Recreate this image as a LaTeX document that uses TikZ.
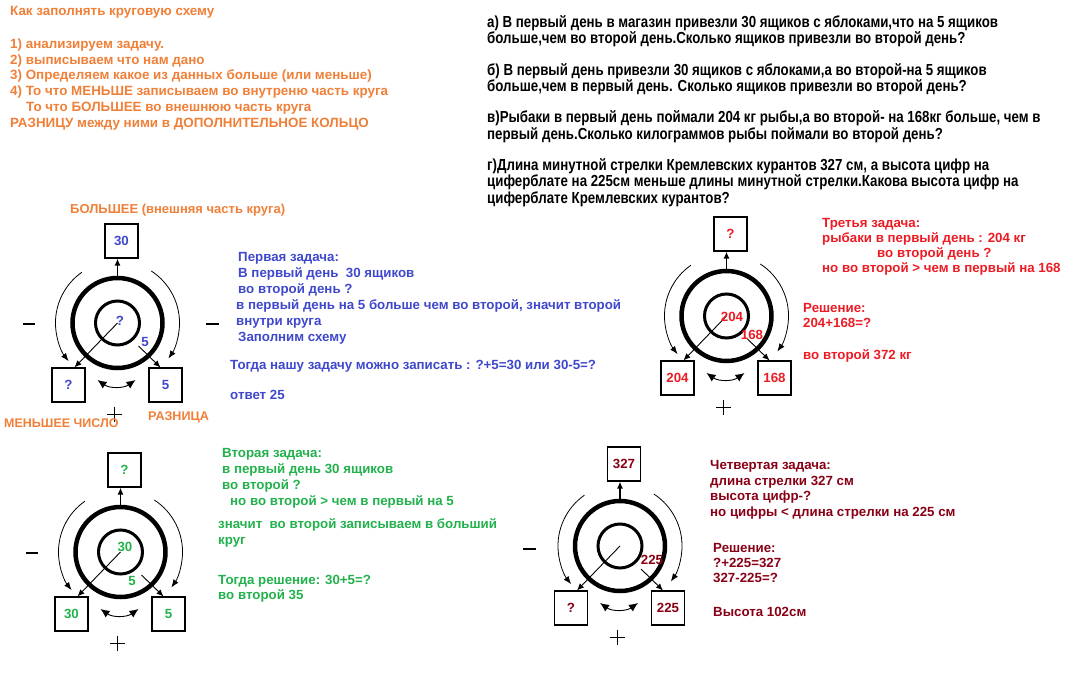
\documentclass[tikz,border=0pt]{standalone}
\usepackage{fontspec}
\setmainfont{Liberation Sans}
\newfontfamily\narrowfont[FakeStretch=0.83]{Liberation Sans}
\usetikzlibrary{arrows.meta}
\definecolor{hintorange}{RGB}{240,128,56}
\definecolor{taskblue}{RGB}{63,72,204}
\definecolor{taskgreen}{RGB}{34,177,76}
\definecolor{taskred}{RGB}{237,28,36}
\definecolor{taskdarkred}{RGB}{136,0,21}
\tikzset{
  outerring/.style={draw, circle, minimum size=90pt, line width=4.5pt, inner sep=0pt},
  innerring/.style={draw, circle, minimum size=44pt, line width=3pt, inner sep=0pt},
  numbox/.style={draw, line width=1.1pt, minimum width=33pt, minimum height=34pt, inner sep=0pt, font=\bfseries\fontsize{13.3}{14}\selectfont},
  numlabel/.style={inner sep=0pt, font=\bfseries\fontsize{13.3}{14}\selectfont},
  arrow/.style={-{Latex[length=7pt, width=6pt]}, line width=1.4pt},
  thinarrow/.style={-{Latex[length=7pt, width=6pt]}, line width=0.9pt},
  arcarrow/.style={-{Latex[length=8pt, width=6pt]}, line width=0.8pt},
  swaparrow/.style={{Latex[length=9pt, width=8pt]}-{Latex[length=9pt, width=8pt]}, line width=0.9pt},
  signline/.style={line width=2.4pt},
  plusline/.style={line width=0.9pt},
  textblock/.style={inner sep=0pt, anchor=north west, align=left, font=\bfseries\fontsize{13.3}{16}\selectfont},
  hint/.style={textblock, text=hintorange, font=\bfseries\fontsize{13.4}{15.8}\selectfont},
  tasktext/.style={textblock, font=\narrowfont\bfseries\fontsize{16}{16.3}\selectfont},
  labelline/.style={inner sep=0pt, anchor=west, font=\bfseries\fontsize{13.3}{15}\selectfont},
  schemelabel/.style={labelline, text=hintorange, font=\bfseries\fontsize{12.6}{15}\selectfont}
}
% one circle scheme: name, centre, colour, top box, left box, right box
\newcommand{\ringscheme}[6]{%
  \coordinate (#1c) at (#2);
  \node[outerring] (#1o) at (#1c) {};
  \node[innerring] (#1i) at (#1c) {};
  \node[numbox, text=#3] (#1t) at ([shift={(4,-82)}]#1c) {#4};
  \node[numbox, text=#3] (#1l) at ([shift={(-49,62)}]#1c) {#5};
  \node[numbox, text=#3] (#1r) at ([shift={(48,62)}]#1c) {#6};
  \coordinate (#1d) at ([shift={(21,23)}]#1c);
  \draw[arrow] (#1o.north) -- (#1o.north |- #1t.south);
  \draw[thinarrow] (#1c) -- ([xshift=6pt]#1l.north);
  \draw[thinarrow] (#1d) -- ([xshift=-5pt]#1r.north);
  \draw[arcarrow] ([shift={(-35.6,-50.8)}]#1c) arc[start angle=-125, end angle=-218, radius=62];
  \draw[arcarrow] ([shift={(33.8,-52)}]#1c) arc[start angle=-57, end angle=35, radius=62];
  \draw[swaparrow] ([shift={(-20,57)}]#1c) to[bend right=35] ([shift={(18,57)}]#1c);
  \draw[plusline] ([shift={(-10.5,91)}]#1c) -- ([shift={(4.5,91)}]#1c)
                  ([shift={(-3,83.5)}]#1c) -- ([shift={(-3,98.5)}]#1c);
}

\begin{document}
\begin{tikzpicture}[x=1pt, y=-1pt]
  \useasboundingbox (0,0) rectangle (1074,679);

  % how to fill the scheme
  \node[hint] (howto) at (10,6) {Как заполнять круговую схему\\[17pt]
    1) анализируем задачу.\\
    2) выписываем что нам дано\\
    3) Определяем какое из данных больше (или меньше)\\
    4) То что МЕНЬШЕ записываем во внутреню часть круга\\
    \hspace*{16pt}То что БОЛЬШЕЕ во внешнюю часть круга\\
    РАЗНИЦУ между ними в ДОПОЛНИТЕЛЬНОЕ КОЛЬЦО};

  \node[tasktext] (tasks) at (487,15) {а) В первый день в магазин привезли 30 ящиков с яблоками,что на 5 ящиков\\
    больше,чем во второй день.Сколько ящиков привезли во второй день?\\[15.5pt]
    б) В первый день привезли 30 ящиков с яблоками,а во второй-на 5 ящиков\\
    больше,чем в первый день. Сколько ящиков привезли во второй день?\\[15pt]
    в)Рыбаки в первый день поймали 204 кг рыбы,а во второй- на 168кг больше, чем в\\
    первый день.Сколько килограммов рыбы поймали во второй день?\\[15pt]
    г)Длина минутной стрелки Кремлевских курантов 327 см, а высота цифр на\\
    циферблате на 225см меньше длины минутной стрелки.Какова высота цифр на\\
    циферблате Кремлевских курантов?};

  % first scheme
  \ringscheme{a}{117.5,323}{taskblue}{30}{?}{5}
  \node[numlabel, text=taskblue] (aq) at (120,321) {?};
  \node[numlabel, text=taskblue] (adiff) at (145,342) {5};
  \draw[signline] ([shift={(-95,1)}]ac) -- ([shift={(-83,1)}]ac)
                  ([shift={(88,1)}]ac) -- ([shift={(101,1)}]ac);
  \node[schemelabel, font=\bfseries\fontsize{13}{15}\selectfont] (bigger) at (70,210) {БОЛЬШЕЕ (внешняя часть круга)};
  \node[schemelabel, font=\bfseries\fontsize{12.5}{15}\selectfont] (smaller) at (4,423) {МЕНЬШЕЕ ЧИСЛО};
  \node[schemelabel] (difference) at (148,417) {РАЗНИЦА};

  \node[textblock, text=taskblue] (firsttask) at (236,252) {\hspace*{2pt}Первая задача:\\
    \hspace*{2pt}В первый день\ \ 30 ящиков\\
    \hspace*{2pt}во второй день ?\\
    в первый день на 5 больше чем во второй, значит второй\\
    внутри круга\\
    \hspace*{2pt}Заполним схему};
  \node[labelline, text=taskblue] (firsteq) at (230,366) {Тогда нашу задачу можно записать : ?+5=30 или 30-5=?};
  \node[labelline, text=taskblue] (firstans) at (230,395) {ответ 25};

  % second scheme
  \ringscheme{b}{120.5,552}{taskgreen}{?}{30}{5}
  \node[numlabel, text=taskgreen] (bin) at (125,547) {30};
  \node[numlabel, text=taskgreen] (bdiff) at (132,581) {5};
  \draw[signline] ([shift={(-95,1)}]bc) -- ([shift={(-83,1)}]bc);

  \node[textblock, text=taskgreen] (secondtask) at (222,448) {Вторая задача:\\
    в первый день 30 ящиков\\
    во второй ?\\
    \hspace*{8pt}но во второй > чем в первый на 5};
  \node[textblock, text=taskgreen] (secondnote) at (218,518) {значит\ \ во второй записываем в больший\\ круг};
  \node[textblock, text=taskgreen, font=\bfseries\fontsize{13.3}{15}\selectfont] (secondans) at (218,575) {Тогда решение: 30+5=?\\ во второй 35};

  % third scheme
  \ringscheme{c}{726.5,316}{taskred}{?}{204}{168}
  \node[numlabel, text=taskred] (cin) at (732,317) {204};
  \node[numlabel, text=taskred] (cdiff) at (752,335) {168};

  \node[textblock, text=taskred, font=\bfseries\fontsize{13.3}{15}\selectfont] (thirdtask) at (822,218) {Третья задача:\\
    рыбаки в первый день : 204 кг\\
    \hspace*{55pt}во второй день ?\\
    но во второй > чем в первый на 168};
  \node[textblock, text=taskred, font=\bfseries\fontsize{13.3}{15.5}\selectfont] (thirdans) at (803,303) {Решение:\\ 204+168=?\\[16.5pt] во второй 372 кг};

  % fourth scheme
  \ringscheme{d}{620,546}{taskdarkred}{327}{?}{225}
  \node[numlabel, text=taskdarkred] (ddiff) at (652,560) {225};
  \draw[signline] ([shift={(-97,3)}]dc) -- ([shift={(-84,3)}]dc);

  \node[textblock, text=taskdarkred, font=\bfseries\fontsize{13.3}{15.7}\selectfont] (fourthtask) at (710,460) {Четвертая задача:\\
    длина стрелки 327 см\\
    высота цифр-?\\
    но цифры < длина стрелки на 225 см};
  \node[textblock, text=taskdarkred, font=\bfseries\fontsize{13.3}{15}\selectfont] (fourthans) at (713,543) {Решение:\\ ?+225=327\\ 327-225=?\\[19pt] Высота 102см};
\end{tikzpicture}
\end{document}
